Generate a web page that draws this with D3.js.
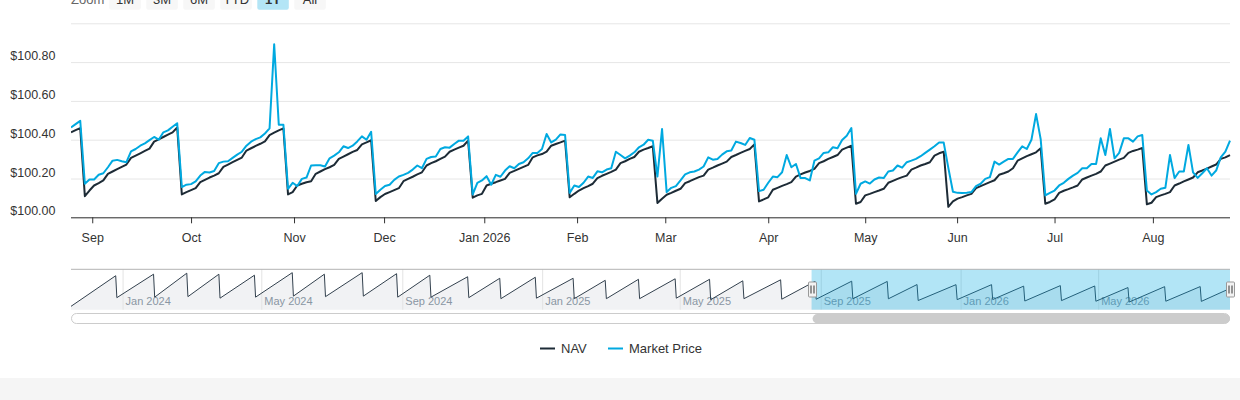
<!DOCTYPE html>
<html>
<head>
<meta charset="utf-8">
<script src="https://cdn.jsdelivr.net/npm/d3@7"></script>
<style>
  html, body { margin: 0; padding: 0; background: #fff; }
  svg { display: block; font-family: "Liberation Sans", Arial, sans-serif; }
</style>
</head>
<body>
<div id="chart"></div>
<script>
// daily values, one per trading day (ordinal x axis), Aug 25 2025 .. Aug 24 2026
const nav = [
  100.438, 100.449, 100.460, 100.109, 100.138, 100.164, 100.176, 100.190, 100.224, 100.236,
  100.248, 100.260, 100.272, 100.306, 100.318, 100.330, 100.342, 100.354, 100.390, 100.402,
  100.414, 100.426, 100.438, 100.463, 100.118, 100.130, 100.140, 100.150, 100.181, 100.193,
  100.205, 100.215, 100.227, 100.260, 100.272, 100.284, 100.296, 100.308, 100.344, 100.356,
  100.368, 100.379, 100.391, 100.424, 100.436, 100.448, 100.458, 100.118, 100.130, 100.164,
  100.173, 100.181, 100.186, 100.224, 100.236, 100.248, 100.258, 100.270, 100.301, 100.313,
  100.325, 100.337, 100.347, 100.376, 100.386, 100.397, 100.084, 100.104, 100.120, 100.130,
  100.140, 100.150, 100.186, 100.198, 100.209, 100.221, 100.232, 100.267, 100.279, 100.289,
  100.301, 100.313, 100.338, 100.349, 100.359, 100.369, 100.395, 100.101, 100.113, 100.121,
  100.164, 100.173, 100.181, 100.190, 100.198, 100.229, 100.239, 100.250, 100.260, 100.270,
  100.309, 100.319, 100.326, 100.338, 100.369, 100.378, 100.386, 100.395, 100.103, 100.121,
  100.138, 100.150, 100.161, 100.173, 100.202, 100.214, 100.224, 100.234, 100.246, 100.279,
  100.289, 100.301, 100.311, 100.338, 100.349, 100.357, 100.366, 100.074, 100.096, 100.116,
  100.126, 100.137, 100.147, 100.176, 100.186, 100.197, 100.207, 100.215, 100.246, 100.256,
  100.267, 100.277, 100.287, 100.311, 100.321, 100.332, 100.342, 100.352, 100.376, 100.082,
  100.092, 100.103, 100.142, 100.152, 100.162, 100.171, 100.181, 100.210, 100.221, 100.231,
  100.239, 100.250, 100.279, 100.289, 100.301, 100.311, 100.321, 100.349, 100.359, 100.369,
  100.070, 100.079, 100.113, 100.121, 100.130, 100.138, 100.147, 100.178, 100.188, 100.198,
  100.207, 100.215, 100.246, 100.256, 100.267, 100.275, 100.284, 100.318, 100.330, 100.338,
  100.054, 100.082, 100.096, 100.104, 100.113, 100.121, 100.150, 100.161, 100.171, 100.181,
  100.191, 100.219, 100.227, 100.236, 100.253, 100.292, 100.304, 100.315, 100.325, 100.335,
  100.356, 100.070, 100.079, 100.092, 100.126, 100.137, 100.145, 100.154, 100.164, 100.195,
  100.205, 100.215, 100.224, 100.236, 100.267, 100.277, 100.287, 100.297, 100.306, 100.332,
  100.342, 100.349, 100.357, 100.067, 100.075, 100.104, 100.113, 100.121, 100.130, 100.164,
  100.174, 100.185, 100.195, 100.205, 100.232, 100.241, 100.251, 100.262, 100.272, 100.301,
  100.309, 100.321
];
const marketPrice = [
  100.463, 100.480, 100.497, 100.173, 100.195, 100.195, 100.219, 100.227, 100.258, 100.292,
  100.296, 100.289, 100.284, 100.340, 100.352, 100.369, 100.381, 100.398, 100.414, 100.400,
  100.438, 100.448, 100.467, 100.485, 100.156, 100.168, 100.171, 100.185, 100.215, 100.234,
  100.231, 100.239, 100.279, 100.287, 100.289, 100.306, 100.323, 100.338, 100.369, 100.390,
  100.403, 100.412, 100.432, 100.458, 100.892, 100.477, 100.477, 100.147, 100.178, 100.161,
  100.198, 100.205, 100.267, 100.268, 100.268, 100.262, 100.304, 100.318, 100.335, 100.366,
  100.357, 100.369, 100.391, 100.417, 100.400, 100.441, 100.120, 100.142, 100.161, 100.168,
  100.193, 100.210, 100.219, 100.229, 100.246, 100.267, 100.253, 100.301, 100.311, 100.313,
  100.352, 100.361, 100.359, 100.378, 100.395, 100.395, 100.417, 100.118, 100.178, 100.190,
  100.212, 100.168, 100.219, 100.209, 100.241, 100.263, 100.253, 100.275, 100.284, 100.304,
  100.332, 100.332, 100.352, 100.429, 100.386, 100.400, 100.427, 100.424, 100.126, 100.164,
  100.156, 100.178, 100.210, 100.203, 100.237, 100.232, 100.246, 100.253, 100.338, 100.321,
  100.304, 100.318, 100.335, 100.361, 100.374, 100.400, 100.395, 100.210, 100.455, 100.130,
  100.152, 100.161, 100.190, 100.221, 100.232, 100.236, 100.246, 100.262, 100.309, 100.297,
  100.301, 100.323, 100.340, 100.344, 100.390, 100.383, 100.373, 100.409, 100.400, 100.135,
  100.142, 100.178, 100.210, 100.207, 100.232, 100.321, 100.258, 100.275, 100.202, 100.202,
  100.190, 100.292, 100.304, 100.332, 100.335, 100.361, 100.356, 100.398, 100.420, 100.460,
  100.121, 100.173, 100.185, 100.174, 100.195, 100.205, 100.202, 100.236, 100.241, 100.267,
  100.256, 100.284, 100.292, 100.301, 100.315, 100.332, 100.349, 100.366, 100.386, 100.385,
  100.255, 100.132, 100.126, 100.125, 100.126, 100.130, 100.161, 100.173, 100.198, 100.207,
  100.287, 100.272, 100.287, 100.301, 100.301, 100.335, 100.366, 100.352, 100.400, 100.532,
  100.403, 100.113, 100.126, 100.138, 100.164, 100.178, 100.198, 100.215, 100.229, 100.253,
  100.253, 100.275, 100.275, 100.407, 100.321, 100.455, 100.304, 100.332, 100.407, 100.407,
  100.390, 100.417, 100.424, 100.138, 100.118, 100.130, 100.147, 100.152, 100.321, 100.202,
  100.236, 100.236, 100.373, 100.232, 100.203, 100.227, 100.253, 100.215, 100.241, 100.309,
  100.338, 100.395
];

// month ticks, placed in trading-day index units
const monthLabels = ["Sep", "Oct", "Nov", "Dec", "Jan 2026", "Feb", "Mar", "Apr", "May", "Jun", "Jul", "Aug"];
const monthTickAt = [4.6, 26, 48.3, 67.8, 89.5, 109.6, 128.7, 151, 172, 191.9, 213, 234.3];

const yGrid = [100.0, 100.2, 100.4, 100.6, 100.8, 101.0];
const yLabelled = [100.0, 100.2, 100.4, 100.6, 100.8];

const rangeButtons = ["1M", "3M", "6M", "YTD", "1Y", "All"];
const selectedButton = "1Y";

// navigator: full NAV history as month-end distribution drops
const navigatorStart = "2023-11-17";
const navigatorStartValue = 99.97;
const navigatorEnd = "2026-08-24";
const navigatorEndValue = 100.321;
const dropDates = [
  "2023-12-27", "2024-01-29", "2024-02-27", "2024-03-26", "2024-04-26", "2024-05-29",
  "2024-06-26", "2024-07-29", "2024-08-28", "2024-09-26", "2024-10-29", "2024-11-26",
  "2024-12-27", "2025-01-29", "2025-02-26", "2025-03-27", "2025-04-28", "2025-05-28",
  "2025-06-26", "2025-07-29", "2025-08-28", "2025-09-29", "2025-10-30", "2025-11-25",
  "2025-12-29", "2026-01-29", "2026-02-26", "2026-03-30", "2026-04-29", "2026-05-28",
  "2026-06-29", "2026-07-30"
];
const peakBeforeDrop = [
  100.57, 100.60, 100.62, 100.60, 100.58, 100.63, 100.60, 100.63, 100.61, 100.58, 100.55, 100.52,
  100.54, 100.52, 100.48, 100.50, 100.51, 100.50, 100.47, 100.49, 100.460, 100.463, 100.458, 100.397,
  100.395, 100.395, 100.366, 100.376, 100.369, 100.338, 100.356, 100.357
];
const troughAfterDrop = [
  100.14, 100.15, 100.16, 100.13, 100.15, 100.17, 100.16, 100.17, 100.15, 100.15, 100.14, 100.12,
  100.13, 100.12, 100.12, 100.12, 100.13, 100.10, 100.12, 100.11, 100.109, 100.118, 100.118, 100.084,
  100.101, 100.103, 100.074, 100.082, 100.070, 100.054, 100.070, 100.067
];
const navigatorLabels = ["Jan 2024", "May 2024", "Sep 2024", "Jan 2025", "May 2025", "Sep 2025", "Jan 2026", "May 2026"];
const navigatorLabelDates = ["2024-01-01", "2024-05-01", "2024-09-01", "2025-01-01", "2025-05-01", "2025-09-01", "2026-01-01", "2026-05-01"];
const windowStart = "2025-08-24";

const navColor = "#1d2b36";
const marketColor = "#00a9e0";

const W = 1240, H = 400;
const plotLeft = 71, plotRight = 1230, plotTop = 23.3, plotBottom = 217.3;

const svg = d3.select("#chart").append("svg").attr("width", W).attr("height", H);

// grey band at the page bottom
svg.append("rect").attr("x", 0).attr("y", 378).attr("width", W).attr("height", H - 378).attr("fill", "#f5f5f5");

// range selector (cut at the top edge)
svg.append("text").attr("x", 71).attr("y", 4).attr("font-size", 13).attr("fill", "#666").text("Zoom");
const btn = svg.append("g").selectAll("g").data(rangeButtons).enter().append("g")
  .attr("transform", (d, i) => `translate(${109.3 + i * 37},0)`);
btn.append("rect").attr("x", 0).attr("y", -12).attr("width", 31.5).attr("height", 21.7).attr("rx", 2)
  .attr("fill", d => d === selectedButton ? "#b3e5f6" : "#f7f7f7");
btn.append("text").attr("x", 15.75).attr("y", 4).attr("text-anchor", "middle").attr("font-size", 13)
  .attr("font-weight", d => d === selectedButton ? "bold" : "normal").attr("fill", "#333").text(d => d);

// scales
const x = d3.scaleLinear().domain([0, nav.length - 1]).range([plotLeft, plotRight]);
const y = d3.scaleLinear().domain([100, 101]).range([plotBottom, plotTop]);

// y grid + labels
const yAxis = svg.append("g").attr("transform", `translate(${plotLeft},0)`)
  .call(d3.axisLeft(y).tickValues(yGrid).tickSize(-(plotRight - plotLeft))
    .tickFormat(d => yLabelled.includes(d) ? "$" + d.toFixed(2) : ""));
yAxis.select(".domain").remove();
yAxis.selectAll("line").attr("stroke", "#e6e6e6");
yAxis.selectAll("text").attr("x", -15.5).attr("y", -2.5).attr("dy", 0)
  .attr("font-size", 12.5).attr("fill", "#333").attr("font-family", "Liberation Sans, Arial, sans-serif");

// x axis
const xAxis = svg.append("g").attr("transform", `translate(0,${plotBottom})`)
  .call(d3.axisBottom(x).tickValues(monthTickAt).tickSize(6).tickSizeOuter(0)
    .tickFormat((d, i) => monthLabels[i]));
xAxis.select(".domain").attr("stroke", "#333").attr("d", `M${plotLeft},0.5H${plotRight}`);
xAxis.selectAll("line").attr("stroke", "#333");
xAxis.selectAll("text").attr("y", 25.2).attr("dy", 0).attr("font-size", 12.5).attr("fill", "#333")
  .attr("font-family", "Liberation Sans, Arial, sans-serif");

// series
svg.append("clipPath").attr("id", "plotClip").append("rect")
  .attr("x", plotLeft).attr("y", 0).attr("width", plotRight - plotLeft + 2).attr("height", plotBottom);
const line = d3.line().x((d, i) => x(i)).y(d => y(d));
const plot = svg.append("g").attr("clip-path", "url(#plotClip)");
plot.append("path").datum(nav).attr("d", line).attr("fill", "none")
  .attr("stroke", navColor).attr("stroke-width", 2).attr("stroke-linejoin", "round");
plot.append("path").datum(marketPrice).attr("d", line).attr("fill", "none")
  .attr("stroke", marketColor).attr("stroke-width", 2).attr("stroke-linejoin", "round");

// navigator
const parse = d3.timeParse("%Y-%m-%d");
const navTop = 269.3, navBottom = 309.7;
const navPts = [{ d: parse(navigatorStart), v: navigatorStartValue }];
dropDates.forEach((s, k) => {
  const dd = parse(s);
  navPts.push({ d: d3.timeDay.offset(dd, -1), v: peakBeforeDrop[k] });
  navPts.push({ d: dd, v: troughAfterDrop[k] });
});
navPts.push({ d: parse(navigatorEnd), v: navigatorEndValue });

const xNav = d3.scaleTime().domain([parse(navigatorStart), parse(navigatorEnd)]).range([plotLeft, plotRight]);
const ext = d3.extent(navPts, p => p.v);
const pad = (ext[1] - ext[0]) * 0.1;
const yNav = d3.scaleLinear().domain([ext[0] - pad, ext[1] + pad]).range([navBottom, navTop]);

const ng = svg.append("g");
ng.append("path").datum(navPts)
  .attr("d", d3.area().x(p => xNav(p.d)).y0(navBottom).y1(p => yNav(p.v)))
  .attr("fill", "#f1f2f4");
ng.selectAll(".ngrid").data(navigatorLabelDates).enter().append("line")
  .attr("x1", d => xNav(parse(d)) + 0.5).attr("x2", d => xNav(parse(d)) + 0.5)
  .attr("y1", navTop).attr("y2", navBottom).attr("stroke", "#e3e3e3");
ng.selectAll(".nlab").data(navigatorLabels).enter().append("text")
  .attr("x", (d, i) => xNav(parse(navigatorLabelDates[i])) + 3).attr("y", 305)
  .attr("font-size", 11).attr("fill", "#8a96a3").text(d => d);
ng.append("path").datum(navPts)
  .attr("d", d3.line().x(p => xNav(p.d)).y(p => yNav(p.v)))
  .attr("fill", "none").attr("stroke", "#33414e").attr("stroke-width", 1);

const maskL = xNav(parse(windowStart));
ng.append("rect").attr("x", maskL).attr("y", navTop).attr("width", plotRight - maskL).attr("height", navBottom - navTop)
  .attr("fill", "rgba(0,169,224,0.3)");
ng.append("line").attr("x1", plotLeft).attr("x2", plotRight).attr("y1", navTop).attr("y2", navTop).attr("stroke", "#b3b3b3");

[maskL, plotRight - 0.5].forEach(hx => {
  const h = ng.append("g").attr("transform", `translate(${Math.round(hx) + 0.5},0)`);
  h.append("rect").attr("x", -4).attr("y", 282).attr("width", 8).attr("height", 15).attr("rx", 1)
    .attr("fill", "#f2f2f2").attr("stroke", "#999");
  h.append("line").attr("x1", -1.5).attr("x2", -1.5).attr("y1", 285.5).attr("y2", 293.5).attr("stroke", "#333");
  h.append("line").attr("x1", 1.5).attr("x2", 1.5).attr("y1", 285.5).attr("y2", 293.5).attr("stroke", "#333");
});

// scrollbar
svg.append("rect").attr("x", plotLeft + 0.5).attr("y", 313.5).attr("width", plotRight - plotLeft - 1).attr("height", 10).attr("rx", 5)
  .attr("fill", "#fff").attr("stroke", "#cccccc");
svg.append("rect").attr("x", maskL + 1).attr("y", 314).attr("width", plotRight - maskL - 1).attr("height", 9.5).attr("rx", 4.75)
  .attr("fill", "#cccccc");

// legend
const legend = [{ name: "NAV", color: navColor, x: 540 }, { name: "Market Price", color: marketColor, x: 608 }];
const lg = svg.append("g").selectAll("g").data(legend).enter().append("g");
lg.append("line").attr("x1", d => d.x).attr("x2", d => d.x + 15).attr("y1", 348.5).attr("y2", 348.5)
  .attr("stroke", d => d.color).attr("stroke-width", 2);
lg.append("text").attr("x", d => d.x + 21).attr("y", 353).attr("font-size", 13).attr("fill", "#333").text(d => d.name);
</script>
</body>
</html>
